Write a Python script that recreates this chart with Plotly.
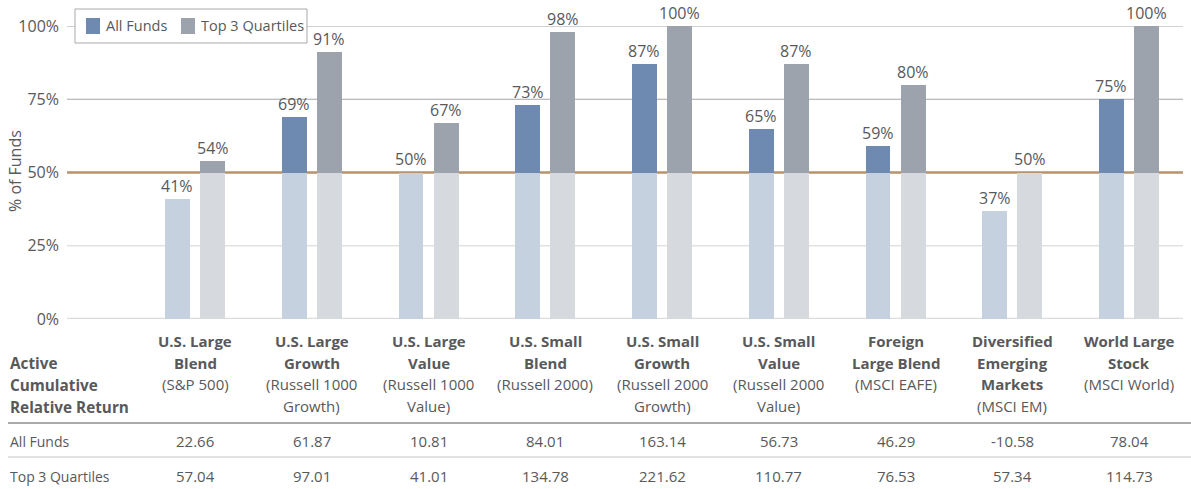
import plotly.graph_objects as go

# --- data -------------------------------------------------------------
categories = [
    ["U.S. Large", "Blend"], ["U.S. Large", "Growth"], ["U.S. Large", "Value"],
    ["U.S. Small", "Blend"], ["U.S. Small", "Growth"], ["U.S. Small", "Value"],
    ["Foreign", "Large Blend"], ["Diversified", "Emerging", "Markets"], ["World Large", "Stock"],
]
benchmarks = [
    ["(S&P 500)"], ["(Russell 1000", "Growth)"], ["(Russell 1000", "Value)"],
    ["(Russell 2000)"], ["(Russell 2000", "Growth)"], ["(Russell 2000", "Value)"],
    ["(MSCI EAFE)"], ["(MSCI EM)"], ["(MSCI World)"],
]
series_names = ["All Funds", "Top 3 Quartiles"]
all_funds_pct = [41, 69, 50, 73, 87, 65, 59, 37, 75]
top3_pct = [54, 91, 67, 98, 100, 87, 80, 50, 100]
all_funds_ret = ["22.66", "61.87", "10.81", "84.01", "163.14", "56.73", "46.29", "-10.58", "78.04"]
top3_ret = ["57.04", "97.01", "41.01", "134.78", "221.62", "110.77", "76.53", "57.34", "114.73"]
row_header = ["Active", "Cumulative", "Relative Return"]
y_ticks = [0, 25, 50, 75, 100]
y_tick_text = ["0%", "25%", "50%", "75%", "100%"]
threshold = 50

# --- styling -----------------------------------------------------------
W, H = 1191, 489
FONT = "Open Sans"
TXT = "#58595b"
C_ALL_DARK, C_ALL_LIGHT = "#6e8ab0", "#c5d1df"
C_TOP_DARK, C_TOP_LIGHT = "#9ca3ad", "#d6dadf"
BAR_W = 0.214
OFF = 0.15
LINE_H = 21.5


def py(pix):
    """pixel row (from top) -> paper fraction"""
    return (H - pix) / H


def px(pix):
    return pix / W


def label(x, y, text, size, xref="x", xanchor="center", bold=False):
    fig.add_annotation(x=x, xref=xref, y=py(y), yref="paper", xanchor=xanchor,
                       yanchor="middle", showarrow=False,
                       text=f"<b>{text}</b>" if bold else text,
                       font=dict(family=FONT, size=size, color=TXT))


idx = list(range(len(categories)))
fig = go.Figure()

series = [
    (series_names[0], all_funds_pct, -OFF, C_ALL_DARK, C_ALL_LIGHT),
    (series_names[1], top3_pct, OFF, C_TOP_DARK, C_TOP_LIGHT),
]
for name, vals, off, dark, light in series:
    xs = [i + off for i in idx]
    # portion up to the 50% line
    fig.add_trace(go.Bar(
        x=xs, y=[min(v, threshold) for v in vals], base=0, width=BAR_W, name=name,
        marker=dict(color=light, line=dict(width=0)), showlegend=False,
        hoverinfo="skip"))
    # portion above the 50% line
    fig.add_trace(go.Bar(
        x=xs, y=[max(v - threshold, 0) for v in vals], base=threshold, width=BAR_W,
        name=name, marker=dict(color=dark, line=dict(width=0)), showlegend=False,
        hoverinfo="skip"))
    for x, v in zip(xs, vals):
        fig.add_annotation(x=x, y=v, xref="x", yref="y", text=f"{v}%",
                           showarrow=False, yanchor="bottom", yshift=0,
                           font=dict(family=FONT, size=16, color=TXT))

shapes = []
grid_style = {100: ("#a6a6a6", 1), 75: ("#a6a6a6", 1), 25: ("#e2e2e2", 1.5), 0: ("#dcdcdc", 2.5)}
for t in y_ticks:
    if t == threshold:
        continue
    col, w = grid_style[t]
    shapes.append(dict(type="line", xref="paper", yref="y", x0=px(67), x1=px(1183),
                       y0=t, y1=t, line=dict(color=col, width=w), layer="below"))
shapes.append(dict(type="line", xref="paper", yref="y", x0=px(67), x1=px(1183),
                   y0=threshold, y1=threshold, line=dict(color="#b8926a", width=2.5),
                   layer="below"))
# table rules
shapes.append(dict(type="line", xref="paper", yref="paper", x0=px(8), x1=1,
                   y0=py(423), y1=py(423), line=dict(color="#a9a9a9", width=2)))
shapes.append(dict(type="line", xref="paper", yref="paper", x0=px(8), x1=1,
                   y0=py(457), y1=py(457), line=dict(color="#c4c4c4", width=1)))

# legend box with swatches
shapes.append(dict(type="rect", xref="paper", yref="paper", x0=px(75), x1=px(307),
                   y0=py(43), y1=py(9), line=dict(color="#a9a9a9", width=1),
                   fillcolor="white", layer="above"))
for sx, col in [(86, C_ALL_DARK), (181, C_TOP_DARK)]:
    shapes.append(dict(type="rect", xref="paper", yref="paper", x0=px(sx), x1=px(sx + 14),
                       y0=py(34), y1=py(18), line=dict(width=0), fillcolor=col,
                       layer="above"))
label(px(104), 26, series_names[0], 14.5, xref="paper", xanchor="left")
label(px(199), 26, series_names[1], 14.5, xref="paper", xanchor="left")

# table header per category
for i in idx:
    lines = [(t, True) for t in categories[i]] + [(t, False) for t in benchmarks[i]]
    for k, (t, b) in enumerate(lines):
        label(i, 341 + k * LINE_H, t, 15, bold=b)
    label(i, 441, all_funds_ret[i], 15)
    label(i, 476, top3_ret[i], 15)

# row labels
for k, t in enumerate(row_header):
    label(px(8), 363 + k * 22, t, 15.3, xref="paper", xanchor="left", bold=True)
label(px(8), 441, series_names[0], 14, xref="paper", xanchor="left")
label(px(8), 476, series_names[1], 14, xref="paper", xanchor="left")

# y-axis title
fig.add_annotation(x=px(15), xref="paper", xanchor="center", y=py(171), yref="paper",
                   yanchor="middle", text="% of Funds", textangle=-90, showarrow=False,
                   font=dict(family=FONT, size=16, color=TXT))

x_lo = (67 - 195) / 116.75
x_hi = (1183 - 195) / 116.75

fig.update_layout(
    width=W, height=H,
    margin=dict(l=0, r=0, t=0, b=0, autoexpand=False),
    paper_bgcolor="white", plot_bgcolor="white",
    barmode="overlay", bargap=0,
    shapes=shapes,
    font=dict(family=FONT, color=TXT),
    xaxis=dict(domain=[px(67), px(1183)], range=[x_lo, x_hi], showgrid=False,
               zeroline=False, showticklabels=False, ticks="", fixedrange=True,
               automargin=False),
    yaxis=dict(domain=[py(319), py(26)], range=[0, 100], tickmode="array",
               tickvals=y_ticks, ticktext=y_tick_text, showgrid=False,
               zeroline=False, ticks="", ticklabelstandoff=7, automargin=False,
               tickfont=dict(family=FONT, size=16, color=TXT), fixedrange=True),
    showlegend=False,
)

fig.write_html("out.html")
